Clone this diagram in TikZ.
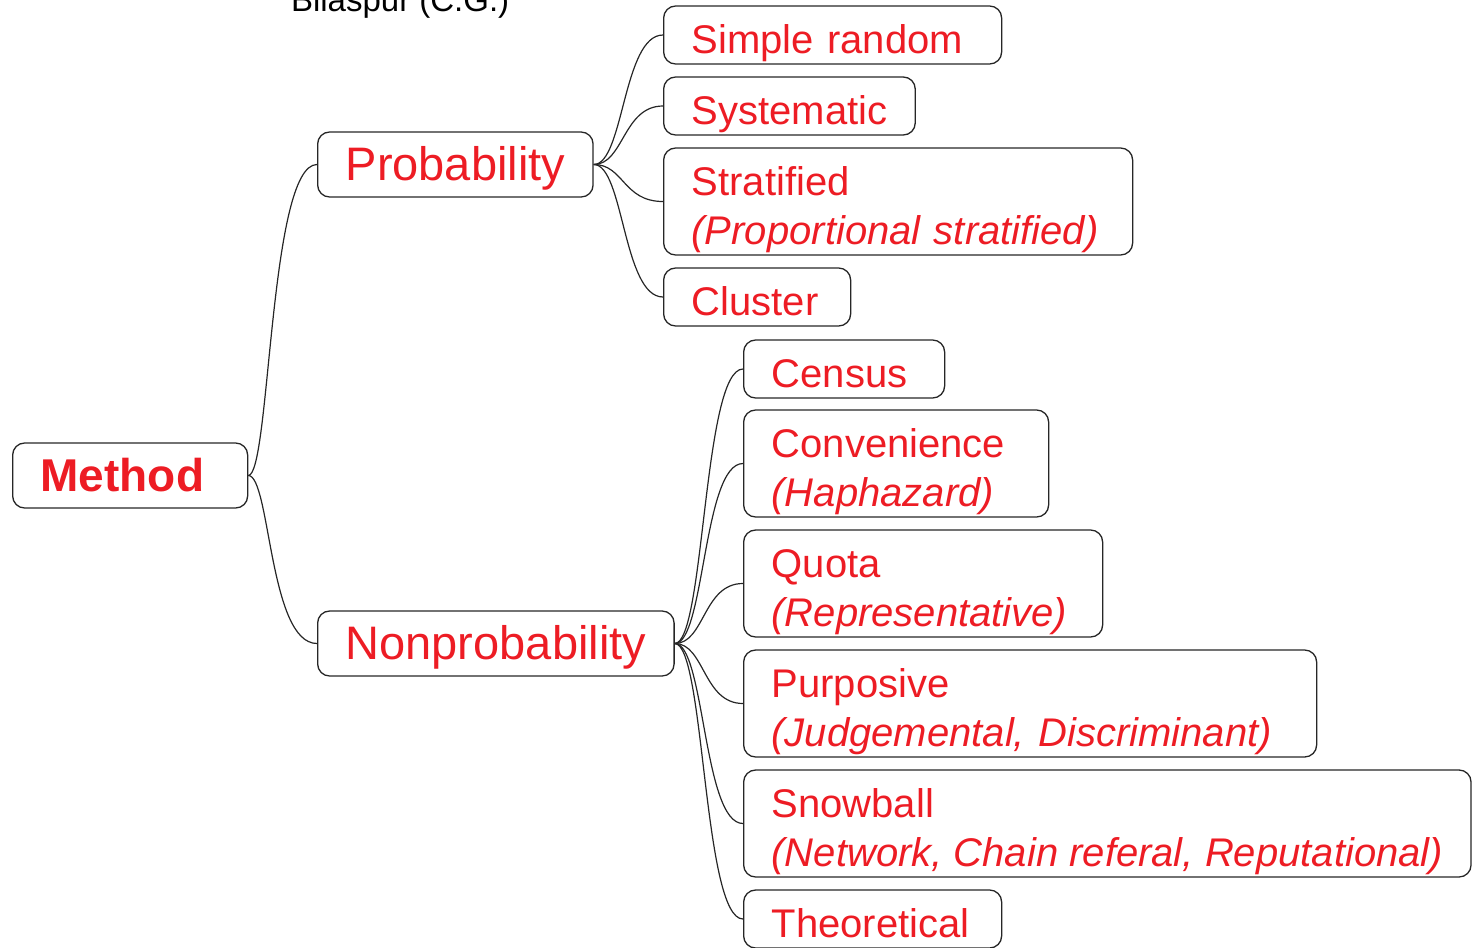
\documentclass[tikz,border=0pt]{standalone}
\usepackage{fontspec}
\setmainfont{Liberation Sans}
\definecolor{mred}{RGB}{237,28,36}
\newcommand\twolines[2]{\rule{0pt}{23.5pt}#1\\\textit{#2}\rule[-5.5pt]{0pt}{5.5pt}}
\tikzset{
  box/.style={draw=black!85, line width=0.65pt, rounded corners=6pt, anchor=west,
    inner xsep=14pt, inner ysep=0pt, text=mred, align=left},
  leaftwo/.style={box, font=\fontsize{20}{24.5}\selectfont},
  leaf/.style={leaftwo,
    execute at begin node=\rule{0pt}{23.5pt},
    execute at end node=\rule[-5.5pt]{0pt}{5.5pt}},
  branch/.style={box, font=\fontsize{23.5}{28}\selectfont,
    execute at begin node=\rule{0pt}{24pt},
    execute at end node=\rule[-8.5pt]{0pt}{8.5pt}},
  root/.style={branch, font=\fontsize{23}{28}\selectfont\bfseries, text width=89.5pt},
  link/.style={line width=0.6pt, black!85}
}
\begin{document}
\begin{tikzpicture}
  [x=0.5pt,y=-0.5pt]
  \useasboundingbox (0,0) rectangle (1480,948);

  \node[anchor=base west, font=\fontsize{16.5}{20}\selectfont] (place) at (284,11) {Bilaspur (C.G.)};

  \node[root] (method) at (12,475.5) {Method};
  \node[branch] (prob) at (317,164.5) {Probability};
  \node[branch] (nonprob) at (317,643.5) {Nonprobability};

  \node[leaf, text width=141pt] (simple) at (663,35) {Simple random};
  \node[leaf] (syst) at (663,106) {Systematic};
  \node[leaftwo, text width=206.5pt] (strat) at (663,201.5) {\twolines{Stratified}{(Proportional stratified)}};
  \node[leaf, text width=65.5pt] (clust) at (663,297) {Cluster};

  \node[leaf, text width=72.5pt] (census) at (743,369) {Census};
  \node[leaftwo, text width=124.5pt] (conv) at (743,463.5) {\twolines{Convenience}{(Haphazard)}};
  \node[leaftwo, text width=151.5pt] (quota) at (743,583.5) {\twolines{Quota}{(Representative)}};
  \node[leaftwo, text width=258.5pt] (purp) at (743,703.5) {\twolines{Purposive}{(Judgemental, Discriminant)}};
  \node[leaftwo] (snow) at (743,823.5) {\twolines{Snowball}{(Network, Chain referal, Reputational)}};
  \node[leaf, text width=101pt] (theo) at (743,919) {Theoretical};

  \foreach \to in {prob,nonprob}
    \draw[link] (method.east) .. controls +(22,0) and +(-48,0) .. (\to.west);
  \foreach \to in {simple,syst,strat,clust}
    \draw[link] (prob.east) .. controls +(30,0) and +(-40,0) .. (\to.west);
  \foreach \to in {census,conv,quota,purp,snow,theo}
    \draw[link] (nonprob.east) .. controls +(30,0) and +(-40,0) .. (\to.west);

\end{tikzpicture}
\end{document}
